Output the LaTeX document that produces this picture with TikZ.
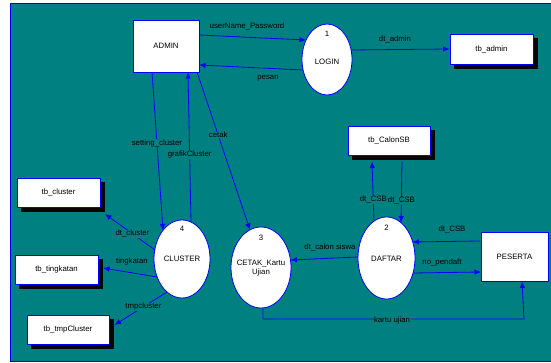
\documentclass[tikz,border=0pt]{standalone}
\usepackage{fontspec}
\setmainfont{Liberation Sans}
\usetikzlibrary{arrows.meta,shapes.geometric}
\definecolor{tealbg}{RGB}{0,128,128}
\definecolor{dfdblue}{RGB}{0,0,255}
\definecolor{shadowcol}{RGB}{6,6,6}
\begin{document}
\begin{tikzpicture}[x=1pt,y=-1pt,
  txt/.style={font=\fontsize{7.8}{9.5}\selectfont, inner sep=0.5pt, text=black},
  lbl/.style={txt, fill=tealbg},
  ent/.style={rectangle, draw=dfdblue, fill=white, line width=0.8pt, inner sep=0, txt},
  store/.style={rectangle, draw=dfdblue, fill=white, line width=0.8pt, inner sep=0, txt},
  shadowline/.style={draw=shadowcol, line width=4pt, line cap=butt, line join=miter},
  proc/.style={ellipse, draw=dfdblue, fill=white, line width=0.8pt, inner sep=0},
  flow/.style={dfdblue, line width=0.8pt, -{Latex[length=6.5pt,width=5.5pt]}},
]
\useasboundingbox (0,0) rectangle (551,363);
\fill[white] (0,0) rectangle (551,363);
\draw[dfdblue, fill=tealbg, line width=1pt] (10.5,3.5) rectangle (565,361.5);

% external entities
\node[ent, minimum width=66pt, minimum height=52pt] (admin) at (166,46) {ADMIN};
\node[ent, minimum width=67pt, minimum height=49pt] (peserta) at (514.5,256.5) {PESERTA};

% data stores
\node[store, minimum width=83pt, minimum height=30pt] (tbadmin) at (491.5,49) {tb\_admin};
\node[store, minimum width=82pt, minimum height=29pt] (tbcalon) at (389,140.5) {tb\_CalonSB};
\node[store, minimum width=83pt, minimum height=29pt] (tbcluster) at (58.5,192.5) {tb\_cluster};
\node[store, minimum width=83pt, minimum height=29pt] (tbtingkat) at (56.5,269.5) {tb\_tingkatan};
\node[store, minimum width=82pt, minimum height=29pt] (tbtmp) at (68,329.5) {tb\_tmpCluster};

% shadows (right and bottom strips) of the data stores
\foreach \s in {tbadmin,tbcalon,tbcluster,tbtingkat,tbtmp}{
  \draw[shadowline] ([shift={(2.4,4)}]\s.north east) -- ([shift={(2.4,2.4)}]\s.south east)
    -- ([shift={(4,2.4)}]\s.south west);
}

% processes
\node[proc, minimum width=50pt, minimum height=71pt] (login) at (327,59.5) {};
\node[proc, minimum width=57pt, minimum height=82pt] (daftar) at (386.5,258) {};
\node[proc, minimum width=60pt, minimum height=81pt] (cetak) at (261,267.5) {};
\node[proc, minimum width=56pt, minimum height=78pt] (cluster) at (182,259) {};

\node[txt] (n1) at (327,34) {1};
\node[txt] (t1) at (327,62) {LOGIN};
\node[txt] (n2) at (386.5,228) {2};
\node[txt] (t2) at (386.5,259) {DAFTAR};
\node[txt] (n3) at (261,238) {3};
\node[txt, align=center] (t3) at (261,268) {CETAK\_Kartu\\Ujian};
\node[txt] (n4) at (182,229) {4};
\node[txt] (t4) at (182,259) {CLUSTER};

% flows
\draw[flow] ([shift={(33,-11)}]admin.center) -- ([shift={(-21,-19.5)}]login.center);
\node[txt] (l1) at (247,26) {userName\_Password};
\draw[flow] ([shift={(-24,10.5)}]login.center) -- ([shift={(33,19)}]admin.center);
\node[txt] (l2) at (268,78) {pesan};
\draw[flow] ([shift={(24,-9.5)}]login.center) -- (tbadmin.west);
\node[txt] (l3) at (395,39) {dt\_admin};

\draw[flow] ([shift={(-14,26)}]admin.center) -- ([shift={(-19,-28.6)}]cluster.center)
  node[lbl, pos=0.45] (l4) {setting\_cluster};
\draw[flow] ([shift={(9,-37)}]cluster.center) -- ([shift={(22,26)}]admin.center)
  node[lbl, pos=0.45] (l5) {grafikCluster};
\draw[flow] ([shift={(31,26)}]admin.center) -- ([shift={(-11,-37.7)}]cetak.center)
  node[lbl, pos=0.4] (l6) {cetak};

\draw[flow] ([shift={(-12.5,-37)}]daftar.center) -- ([shift={(-17,21)}]tbcalon.center)
  node[lbl, pos=0.36] (l7) {dt\_CSB};
\draw[flow] ([shift={(13,21)}]tbcalon.center) -- ([shift={(14.5,-35.3)}]daftar.center)
  node[lbl, pos=0.64] (l8) {dt\_CSB};
\draw[flow] ([shift={(-34.5,-15.5)}]peserta.center) -- ([shift={(26,-16)}]daftar.center);
\node[txt] (l9) at (452,229) {dt\_CSB};
\draw[flow] ([shift={(26.5,15)}]daftar.center) -- ([shift={(-33.5,15.5)}]peserta.center);
\node[txt] (l10) at (442,262) {no\_pendaft};
\draw[flow] ([shift={(-28.5,-1)}]daftar.center) -- ([shift={(29.5,-7.5)}]cetak.center);
\node[txt] (l11) at (330,247) {dt\_calon siswa};

\coordinate (kc) at (524,319);
\draw[flow] ([shift={(2,0)}]cetak.south) |- (kc) -- ([shift={(7.5,0)}]peserta.south);
\node[lbl] (l12) at (392,320) {kartu ujian};

\draw[flow] ([shift={(-27,-9)}]cluster.center) -- ([shift={(46.5,21.5)}]tbcluster.center)
  node[lbl, pos=0.45] (l13) {dt\_cluster};
\draw[flow] ([shift={(-25,18)}]cluster.center) -- ([shift={(46.5,-1.5)}]tbtingkat.center);
\node[txt] (l14) at (132,261) {tingkatan};
\draw[flow] ([shift={(-15,33)}]cluster.center) -- ([shift={(46.5,-4.5)}]tbtmp.center)
  node[lbl, pos=0.45] (l15) {tmpcluster};
\end{tikzpicture}
\end{document}
